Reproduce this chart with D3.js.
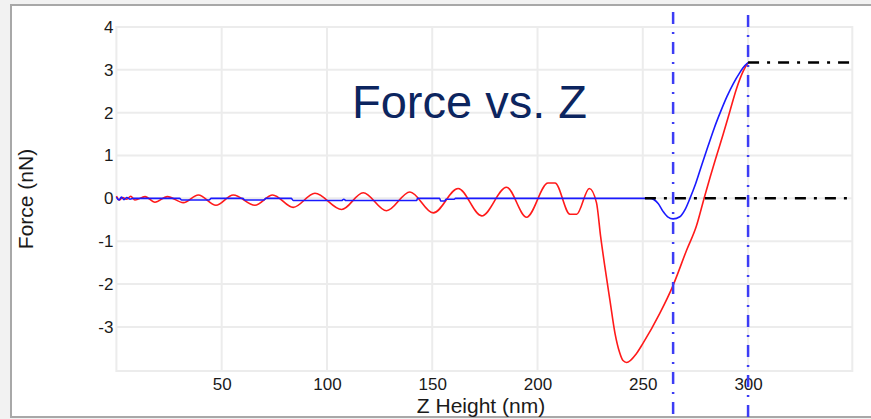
<!DOCTYPE html>
<html>
<head>
<meta charset="utf-8">
<script src="https://cdn.jsdelivr.net/npm/d3@7"></script>
<style>
  body { margin: 0; background: #f2f2f2; }
  svg { display: block; font-family: "Liberation Sans", Arial, sans-serif; }
</style>
</head>
<body>
<svg id="chart"></svg>
<script>
// approach curve (red), Z in nm / force in nN
const redZ = [0, 1.4, 3, 4.9, 6.8, 8.8, 13.6, 18.3, 24.2, 31.8, 38.9, 47.3, 55.5, 65.8, 74.2,
  84, 94.3, 107, 117.2, 128.3, 139.4, 150.5, 162.3, 173.5, 185.3, 194.8, 205, 208.3, 215.4, 218.6,
  224.6, 228, 230, 232, 234.4, 236.8, 239, 240.5, 242.3, 247, 250, 258, 264.4, 270.8, 275.5,
  279, 282, 285, 288.2, 291.4, 294.5, 297.7, 300]
const redF = [0.05, -0.04, 0.02, -0.02, 0.05, -0.04, 0.04, -0.09, 0.04, -0.10, 0.08, -0.16, 0.08, -0.16, 0.08,
  -0.21, 0.12, -0.26, 0.13, -0.29, 0.15, -0.34, 0.23, -0.41, 0.26, -0.44, 0.36, 0.36, -0.37, -0.37,
  0.23, -0.1, -0.9, -1.6, -2.38, -3.15, -3.6, -3.78, -3.83, -3.62, -3.39, -2.69, -2.03, -1.21, -0.64,
  -0.02, 0.5, 0.99, 1.5, 2.04, 2.56, 2.97, 3.17]

// retract curve (blue)
const blueZ = [0, 1.2, 2.4, 3.6, 5, 6.5, 8, 30, 31, 44, 45, 60, 61, 70, 71, 83, 84, 107, 108, 109,
  142.6, 143, 153.5, 154, 156, 156.5, 160.5, 161, 253.4, 257.3, 259.7, 262, 264.4, 267.6, 270,
  272.4, 275, 278, 281, 284, 287, 290, 293, 296, 298.5, 300]
const blueF = [0.03, -0.04, 0.03, -0.03, 0.02, -0.02, 0, 0, -0.04, -0.04, 0, 0, -0.04, -0.04, 0, 0, -0.05, -0.05, -0.02, -0.05,
  -0.05, 0, 0, -0.06, -0.06, -0.02, -0.02, 0, 0, -0.12, -0.31, -0.44, -0.48, -0.43, -0.27,
  0, 0.33, 0.78, 1.22, 1.65, 2.03, 2.38, 2.68, 2.93, 3.1, 3.17]

const markerZ = [264.4, 300]       // vertical dash-dot markers
const baselineFrom = 251           // baseline (0 nN) marker start
const contactForce = 3.17          // setpoint force marker

const xTicks = [50, 100, 150, 200, 250, 300]
const yTicks = [-3, -2, -1, 0, 1, 2, 3, 4]

const width = 871
const height = 419

const svg = d3.select('#chart')
  .attr('width', width)
  .attr('height', height)

// window frame
svg.append('rect')
  .attr('x', 11).attr('y', 5)
  .attr('width', width + 10).attr('height', 412)
  .attr('fill', '#fff')
  .attr('stroke', '#a8a8a8')
  .attr('stroke-width', 2)

const x = d3.scaleLinear().domain([0, 349.5]).range([116.4, 852.3])
const y = d3.scaleLinear().domain([-4.03, 4]).range([371, 27])

// grid
const grid = svg.append('g')
  .attr('stroke', '#ececec')
  .attr('stroke-width', 2)
grid.selectAll('.gx')
  .data(xTicks)
  .join('line')
  .attr('x1', d => x(d)).attr('x2', d => x(d))
  .attr('y1', y.range()[0]).attr('y2', y.range()[1])
grid.selectAll('.gy')
  .data(yTicks)
  .join('line')
  .attr('x1', x.range()[0]).attr('x2', x.range()[1])
  .attr('y1', d => y(d)).attr('y2', d => y(d))
svg.append('rect')
  .attr('x', x.range()[0]).attr('y', y.range()[1])
  .attr('width', x.range()[1] - x.range()[0])
  .attr('height', y.range()[0] - y.range()[1])
  .attr('fill', 'none')
  .attr('stroke', '#ececec')
  .attr('stroke-width', 2)

// axes (labels only)
const xAxis = svg.append('g')
  .attr('transform', `translate(0,${y.range()[0]})`)
  .call(d3.axisBottom(x).tickValues(xTicks).tickSize(0).tickPadding(7))
const yAxis = svg.append('g')
  .attr('transform', `translate(${x.range()[0]},0)`)
  .call(d3.axisLeft(y).tickValues(yTicks).tickSize(0).tickPadding(3).tickFormat(d => String(d)))
for (let ax of [xAxis, yAxis]) {
  ax.select('.domain').remove()
  ax.selectAll('text')
    .attr('fill', '#1a1a1a')
    .style('font-size', '17px')
    .style('font-family', '"Liberation Sans", Arial, sans-serif')
}

svg.append('text')
  .attr('x', 481).attr('y', 413)
  .attr('text-anchor', 'middle')
  .attr('fill', '#1a1a1a')
  .style('font-size', '21px')
  .text('Z Height (nm)')

svg.append('text')
  .attr('transform', 'translate(33,199) rotate(-90)')
  .attr('text-anchor', 'middle')
  .attr('fill', '#1a1a1a')
  .style('font-size', '21px')
  .text('Force (nN)')

// curves
const line = d3.line()
  .x(d => x(d[0]))
  .y(d => y(d[1]))
  .curve(d3.curveMonotoneX)

svg.append('path')
  .datum(redZ.map((z, i) => [z, redF[i]]))
  .attr('fill', 'none')
  .attr('stroke', '#ff1a1a')
  .attr('stroke-width', 1.6)
  .attr('d', line)

svg.append('path')
  .datum(blueZ.map((z, i) => [z, blueF[i]]))
  .attr('fill', 'none')
  .attr('stroke', '#1a1aff')
  .attr('stroke-width', 1.6)
  .attr('d', line)

// black dash-dot markers
svg.append('line')
  .attr('x1', x(baselineFrom)).attr('x2', x.range()[1])
  .attr('y1', y(0)).attr('y2', y(0))
  .attr('stroke', '#000')
  .attr('stroke-width', 2.5)
  .attr('stroke-dasharray', '11,8,3,8')
svg.append('line')
  .attr('x1', x(300)).attr('x2', x.range()[1])
  .attr('y1', y(contactForce)).attr('y2', y(contactForce))
  .attr('stroke', '#000')
  .attr('stroke-width', 2.5)
  .attr('stroke-dasharray', '11,8,3,8')

// blue dash-dot verticals
svg.selectAll('.marker')
  .data(markerZ)
  .join('line')
  .attr('x1', d => x(d)).attr('x2', d => x(d))
  .attr('y1', (d, i) => 12 + i * 3).attr('y2', height)
  .attr('stroke', '#3c3cf5')
  .attr('stroke-width', 2.5)
  .attr('stroke-dasharray', '12,8,2,8')

// slide title
svg.append('text')
  .attr('x', 352).attr('y', 118)
  .attr('fill', '#0c255f')
  .style('font-size', '47px')
  .text('Force vs. Z')
</script>
</body>
</html>
